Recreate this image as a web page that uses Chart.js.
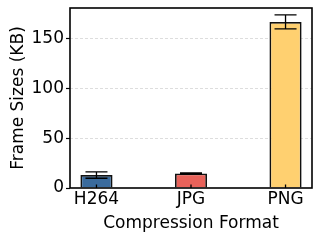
<!DOCTYPE html>
<html lang="en">
<head>
    <meta charset="UTF-8">
    <title>Frame Sizes</title>
    <script src="https://cdn.jsdelivr.net/npm/chart.js"></script>
    <style>
        body { margin: 0; background: white; }
        .wrap { width: 320px; height: 240px; }
    </style>
</head>
<body>
    <div class="wrap"><canvas id="sizeChart" width="320" height="240"></canvas></div>

    <script>
        const formats = ['H264', 'JPG', 'PNG'];
        const frameSizes = [13, 14.7, 167];
        const frameErrors = [3.2, 0.6, 7];
        const barColors = ['#3a6b9d', '#e8625a', '#ffd070'];
        const yTicks = [0, 50, 100, 150];

        // error bars + frame box, drawn on top of the bars
        const errorBars = {
            id: 'errorBars',
            afterDatasetsDraw(chart) {
                const ctx = chart.ctx;
                const x = chart.scales.x, y = chart.scales.y;
                ctx.save();
                ctx.strokeStyle = '#000';
                ctx.lineWidth = 1.3;
                frameSizes.forEach((v, i) => {
                    const px = x.getPixelForValue(i);
                    const top = y.getPixelForValue(v + frameErrors[i]);
                    const bot = y.getPixelForValue(v - frameErrors[i]);
                    ctx.beginPath();
                    ctx.moveTo(px, top); ctx.lineTo(px, bot);
                    ctx.moveTo(px - 11, top); ctx.lineTo(px + 11, top);
                    ctx.moveTo(px - 11, bot); ctx.lineTo(px + 11, bot);
                    // small inward x tick
                    ctx.moveTo(px, y.bottom); ctx.lineTo(px, y.bottom - 3.5);
                    ctx.stroke();
                });
                const a = chart.chartArea;
                ctx.lineWidth = 1.6;
                ctx.strokeRect(a.left, a.top, a.right - a.left, a.bottom - a.top);
                ctx.restore();
            }
        };

        const font = { family: 'DejaVu Sans', size: 17 };

        new Chart(document.getElementById('sizeChart'), {
            type: 'bar',
            data: {
                datasets: [{
                    data: frameSizes.map((v, i) => ({ x: i, y: v })),
                    backgroundColor: barColors,
                    borderColor: '#111',
                    borderWidth: 1.8,
                    barPercentage: 0.34,
                    categoryPercentage: 1
                }]
            },
            options: {
                responsive: false,
                animation: false,
                layout: { padding: { top: 8, right: 8, left: 0, bottom: 0 } },
                plugins: { legend: { display: false }, tooltip: { enabled: false } },
                scales: {
                    x: {
                        type: 'linear',
                        offset: false,
                        min: -0.28,
                        max: 2.28,
                        afterBuildTicks: s => { s.ticks = formats.map((f, i) => ({ value: i })); },
                        afterFit: s => { s.height = 52; s.paddingLeft = 0; s.paddingRight = 0; },
                        grid: { display: false, drawTicks: false, tickLength: 0 },
                        border: { display: false },
                        ticks: {
                            color: '#000',
                            padding: 1,
                            font: font,
                            callback: v => formats[v]
                        },
                        title: {
                            display: true,
                            text: 'Compression Format',
                            color: '#000',
                            padding: { top: 0, bottom: 6 },
                            font: font
                        }
                    },
                    y: {
                        min: 0,
                        max: 181,
                        afterBuildTicks: s => { s.ticks = yTicks.map(v => ({ value: v })); },
                        afterFit: s => { s.width = 70; s.paddingTop = 0; s.paddingBottom = 0; },
                        grid: {
                            color: ctx => ctx.tick && ctx.tick.value === 0 ? 'rgba(0,0,0,0)' : '#d4d4d4',
                            lineWidth: 0.8,
                            tickColor: '#000',
                            tickLength: 4,
                            tickBorderDash: [],
                            tickWidth: 1.2
                        },
                        border: { display: false, dash: [3, 2] },
                        ticks: {
                            color: '#000',
                            padding: 2,
                            font: font
                        },
                        title: {
                            display: true,
                            text: 'Frame Sizes (KB)',
                            color: '#000',
                            padding: { top: 8, bottom: 0 },
                            font: font
                        }
                    }
                }
            },
            plugins: [errorBars]
        });
    </script>
</body>
</html>
